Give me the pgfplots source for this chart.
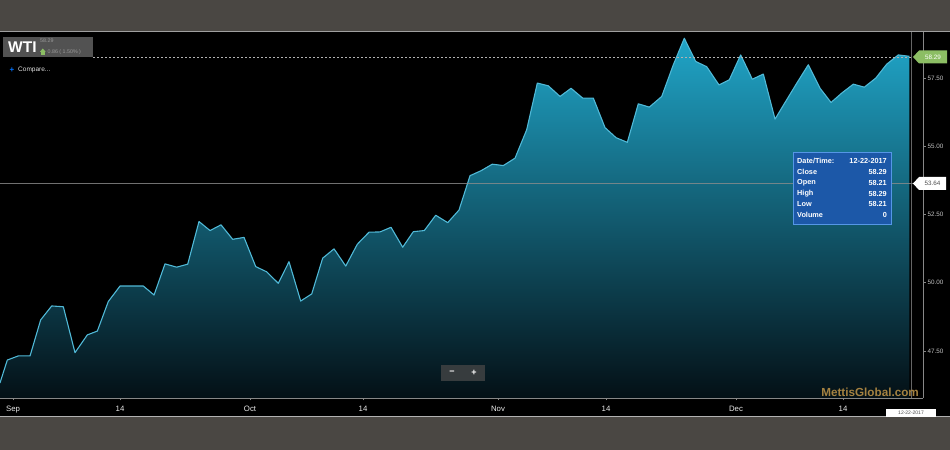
\documentclass[border=0pt]{standalone}
\usepackage{pgfplots}
\pgfplotsset{compat=1.18}
\usepackage{pgfplotstable}
\usepackage{fontspec}
\setmainfont{Liberation Sans}
\definecolor{bgGrey}{RGB}{74,71,67}
\definecolor{frameGrey}{RGB}{135,135,135}
\definecolor{fillTop}{RGB}{32,165,200}
\definecolor{fillMid}{RGB}{14,104,128}
\definecolor{fillBot}{RGB}{4,16,22}
\definecolor{lineC}{RGB}{80,185,215}
\definecolor{tipBlue}{RGB}{28,88,168}
\definecolor{tipBorder}{RGB}{85,150,230}
\definecolor{greenLab}{RGB}{140,190,100}
\definecolor{wmark}{RGB}{165,130,65}
\definecolor{boxGrey}{RGB}{82,82,82}
\definecolor{btnGrey}{RGB}{55,60,62}
\definecolor{tickTxt}{RGB}{195,195,195}

% WTI close prices (y) against days since 1 Sep 2017 (x)
\pgfplotstableread{
x y
-1.63 46.33
-0.71 47.17
0.66 47.32
2.13 47.32
3.46 48.64
4.84 49.15
6.29 49.12
7.75 47.44
9.29 48.09
10.54 48.23
11.91 49.31
13.38 49.88
14.83 49.88
16.29 49.88
17.63 49.55
19.00 50.69
20.46 50.57
21.84 50.68
23.25 52.24
24.63 51.91
26.00 52.12
27.46 51.59
28.88 51.66
30.34 50.59
31.71 50.40
33.16 49.98
34.50 50.77
35.96 49.33
37.34 49.59
38.71 50.90
40.13 51.24
41.59 50.61
43.04 51.41
44.50 51.85
45.88 51.86
47.25 52.03
48.71 51.30
50.04 51.87
51.41 51.91
52.84 52.47
54.34 52.20
55.75 52.66
57.13 53.92
58.50 54.10
59.91 54.34
61.29 54.29
62.75 54.56
64.21 55.60
65.54 57.31
66.91 57.21
68.38 56.82
69.75 57.12
71.21 56.76
72.54 56.76
74.00 55.68
75.38 55.31
76.79 55.14
78.16 56.55
79.54 56.43
81.09 56.82
82.54 57.98
83.91 58.95
85.34 58.10
86.71 57.91
88.25 57.24
89.54 57.43
90.96 58.34
92.41 57.45
93.79 57.64
95.25 55.99
96.63 56.66
98.00 57.32
99.41 57.98
100.88 57.12
102.25 56.60
103.66 56.96
105.04 57.27
106.41 57.16
107.84 57.49
109.21 58.00
110.66 58.34
112.04 58.29
}\wti

\begin{document}
\begin{tikzpicture}[x=1bp,y=1bp]
% backdrop
\fill[bgGrey] (0,-52) rectangle (950,398);
\fill[black] (0,-18) rectangle (950,367);
\draw[line width=0.8bp, gray!75] (0,367) -- (950,367);
\draw[line width=0.8bp, gray!60] (0,-18) -- (950,-18);

% the y axis is plotted as price minus 45.78 (the bottom of the panel), so the area closes on the panel bottom
\begin{axis}[
  at={(0,0)}, anchor=south west,
  scale only axis, width=923bp, height=366bp,
  xmin=-1.625, xmax=113.75, ymin=0, ymax=13.40,
  axis x line*=bottom, axis y line*=right,
  axis line style={frameGrey, line width=0.8bp},
  tick style={frameGrey, line width=0.6bp},
  tick align=outside, major tick length=2.5bp,
  xtick={0,13.375,29.625,43.75,60.625,74.125,90.375,103.75},
  xticklabels={Sep,14,Oct,14,Nov,14,Dec,14},
  ytick={1.72,4.22,6.72,9.22,11.72},
  yticklabels={47.50,50.00,52.50,55.00,57.50},
  xticklabel style={font=\fontsize{7.8bp}{9bp}\selectfont, text=white!92!black, anchor=base, inner sep=0pt, yshift=-11.5bp},
  yticklabel style={font=\fontsize{6.3bp}{7.5bp}\selectfont, text=tickTxt, anchor=west, inner sep=0pt, xshift=1.8bp},
]
\addplot[draw=none, top color=fillTop, middle color=fillMid, bottom color=fillBot]
  table[x=x, y expr=\thisrow{y}-45.78] {\wti} \closedcycle;
\addplot[lineC, line width=1.1bp, line join=round]
  table[x=x, y expr=\thisrow{y}-45.78] {\wti};
\end{axis}

% crosshairs and reference line
\draw[gray!60, line width=0.6bp, dash pattern=on 2bp off 2bp] (93,341) -- (912,341);
\draw[white!55!black, line width=0.7bp, opacity=0.8] (0,214.5) -- (923,214.5);
\draw[white!50!black, line width=0.7bp, opacity=0.8] (911.5,0) -- (911.5,366);

% price labels on right
\fill[greenLab] (913,341) -- (919,347.5) -- (947,347.5) -- (947,334.5) -- (919,334.5) -- cycle;
\node[font=\fontsize{6.3bp}{7bp}\selectfont, text=white, inner sep=0pt] at (933,341) {58.29};
\fill[white] (913,214.5) -- (919,221) -- (946,221) -- (946,208) -- (919,208) -- cycle;
\node[font=\fontsize{6.3bp}{7bp}\selectfont, text=black!70, inner sep=0pt] at (932.5,214.5) {53.64};

% tooltip
\fill[tipBlue, draw=tipBorder, line width=0.8bp] (793,174) rectangle (891,246);
\begin{scope}[every node/.style={font=\bfseries\fontsize{7.3bp}{8bp}\selectfont, text=white, inner sep=0pt}]
\node[anchor=west] at (797,237) {Date/Time:};
\node[anchor=east] at (887,237) {12-22-2017};
\node[anchor=west] at (797,226) {Close};
\node[anchor=east] at (887,226) {58.29};
\node[anchor=west] at (797,215) {Open};
\node[anchor=east] at (887,215) {58.21};
\node[anchor=west] at (797,204.5) {High};
\node[anchor=east] at (887,204.5) {58.29};
\node[anchor=west] at (797,194) {Low};
\node[anchor=east] at (887,194) {58.21};
\node[anchor=west] at (797,183.5) {Volume};
\node[anchor=east] at (887,183.5) {0};
\end{scope}

% WTI header box
\fill[boxGrey] (3,341) rectangle (93,361);
\node[anchor=west, font=\bfseries\fontsize{15.5bp}{16bp}\selectfont, text=white, inner sep=0pt] at (8,351) {WTI};
\node[anchor=west, font=\fontsize{5.3bp}{6bp}\selectfont, text=gray!80, inner sep=0pt] at (40,357.3) {58.29};
\fill[greenLab] (41,343.3) rectangle (44.6,346.2);
\fill[greenLab] (40,346.2) -- (42.8,349.5) -- (45.6,346.2) -- cycle;
\node[anchor=west, font=\fontsize{5.3bp}{6bp}\selectfont, text=gray!80, inner sep=0pt] at (47.5,346.3) {0.86 ( 1.50\% )};

% compare
\node[anchor=center, font=\bfseries\fontsize{8bp}{8bp}\selectfont, text=blue!55!cyan, inner sep=0pt] at (12,328) {+};
\node[anchor=west, font=\fontsize{6.5bp}{7bp}\selectfont, text=white!88!black, inner sep=0pt] at (18,328) {Compare...};

% zoom buttons
\fill[btnGrey] (441,17) rectangle (485,33);
\node[font=\bfseries\fontsize{9bp}{9bp}\selectfont, text=white, inner sep=0pt] at (452,25.3) {−};
\node[font=\bfseries\fontsize{9bp}{9bp}\selectfont, text=white, inner sep=0pt] at (474,25.3) {+};

% watermark
\node[anchor=east, font=\bfseries\fontsize{11.7bp}{12bp}\selectfont, text=wmark, inner sep=0pt] at (919,6) {MettisGlobal.com};

% date label
\fill[white] (886,-19) rectangle (936,-11);
\node[font=\fontsize{5bp}{5bp}\selectfont, text=black!70, inner sep=0pt] at (911,-15) {12-22-2017};

\pgfresetboundingbox
\path[use as bounding box] (0,-52) rectangle (950,398);
\end{tikzpicture}
\end{document}
